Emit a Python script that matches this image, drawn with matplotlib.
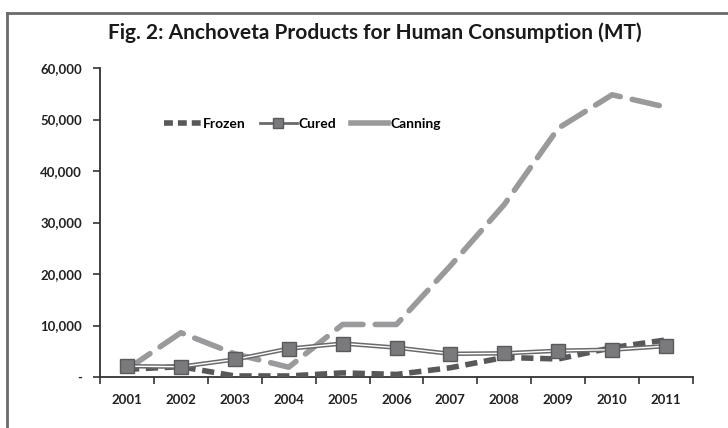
import matplotlib
matplotlib.use("Agg")
import matplotlib.pyplot as plt
from matplotlib.lines import Line2D
from matplotlib.ticker import FuncFormatter, FixedLocator
import numpy as np

years = ["2001", "2002", "2003", "2004", "2005", "2006", "2007", "2008", "2009", "2010", "2011"]
frozen = [1500, 2000, 200, 200, 800, 500, 1800, 3800, 3500, 5700, 7200]
cured = [2100, 2000, 3400, 5500, 6500, 5700, 4500, 4600, 5100, 5300, 6000]
canning = [1500, 8600, 4500, 1900, 10200, 10200, 21600, 33500, 48300, 54800, 52400]

title = "Fig. 2: Anchoveta Products for Human Consumption (MT)"

plt.rcParams['font.family'] = ['Lato', 'DejaVu Sans']

fig = plt.figure(figsize=(7.28, 4.28), dpi=100)
W, H = 728, 428
ax = fig.add_axes([100 / W, 51 / H, 593 / W, 309 / H])

x = np.arange(len(years))
ax.plot(x, canning, color="#9a9a9c", lw=4, dashes=(5, 2.2), solid_capstyle="round",
        dash_capstyle="round", label="Canning", zorder=2)
ax.plot(x, frozen, color="#58585a", lw=4, dashes=(2.2, 1.2), dash_capstyle="butt",
        label="Frozen", zorder=3)
# cured: double line with square markers
ax.plot(x, cured, color="#6a6a6c", lw=3.2, zorder=4)
ax.plot(x, cured, color="white", lw=1.0, zorder=5)
ax.plot(x, cured, ls="none", marker="s", ms=9.5, mfc="#7a7a7c", mec="#5a5a5c", mew=1,
        zorder=6)

ax.set_xlim(-0.5, len(years) - 0.5)
ax.set_ylim(0, 60000)
ax.set_xticks(x)
ax.set_xticklabels(years, fontsize=9.5, fontweight="bold", color="#222222")
ax.xaxis.set_minor_locator(FixedLocator(np.arange(-0.5, len(years), 1.0)))
ax.tick_params(axis="x", which="major", length=0, pad=12)
ax.tick_params(axis="x", which="minor", length=5, width=1.2, color="#333333", direction="out")
ax.set_yticks(np.arange(0, 60001, 10000))
ax.yaxis.set_major_formatter(FuncFormatter(lambda v, p: "-" if v == 0 else f"{int(v):,}"))
ax.tick_params(axis="y", length=5, width=1.2, color="#333333", direction="out", pad=8,
               labelsize=9.5)
for lab in ax.get_yticklabels():
    lab.set_fontweight("bold")
    lab.set_color("#222222")
for s in ["top", "right"]:
    ax.spines[s].set_visible(False)
for s in ["left", "bottom"]:
    ax.spines[s].set_color("#333333")
    ax.spines[s].set_linewidth(1.3)

handles = [
    Line2D([], [], color="#58585a", lw=4, dashes=(1.6, 0.9)),
    Line2D([], [], color="#6a6a6c", lw=2, marker="s", ms=7.5, mfc="#7a7a7c", mec="#5a5a5c"),
    Line2D([], [], color="#9a9a9c", lw=4),
]
leg = ax.legend(handles, ["Frozen", "Cured", "Canning"], ncol=3, frameon=False,
                loc="center left", bbox_to_anchor=(0.096, 0.819), handlelength=2.65,
                handletextpad=0.15, columnspacing=1.05, borderpad=0,
                prop={"weight": "bold", "size": 10})

fig.text(375 / W, 1 - 33 / H, title, ha="center", va="center", fontsize=15,
         fontweight="bold", color="#1a1a1a")

# frame lines
fig.add_artist(Line2D([7 / W, 7 / W], [0, 1 - 13 / H], transform=fig.transFigure,
                      color="#6a6a6a", lw=2))
fig.add_artist(Line2D([7 / W, 1], [1 - 13 / H, 1 - 13 / H], transform=fig.transFigure,
                      color="#6a6a6a", lw=2))

fig.savefig("out.png", dpi=100)
